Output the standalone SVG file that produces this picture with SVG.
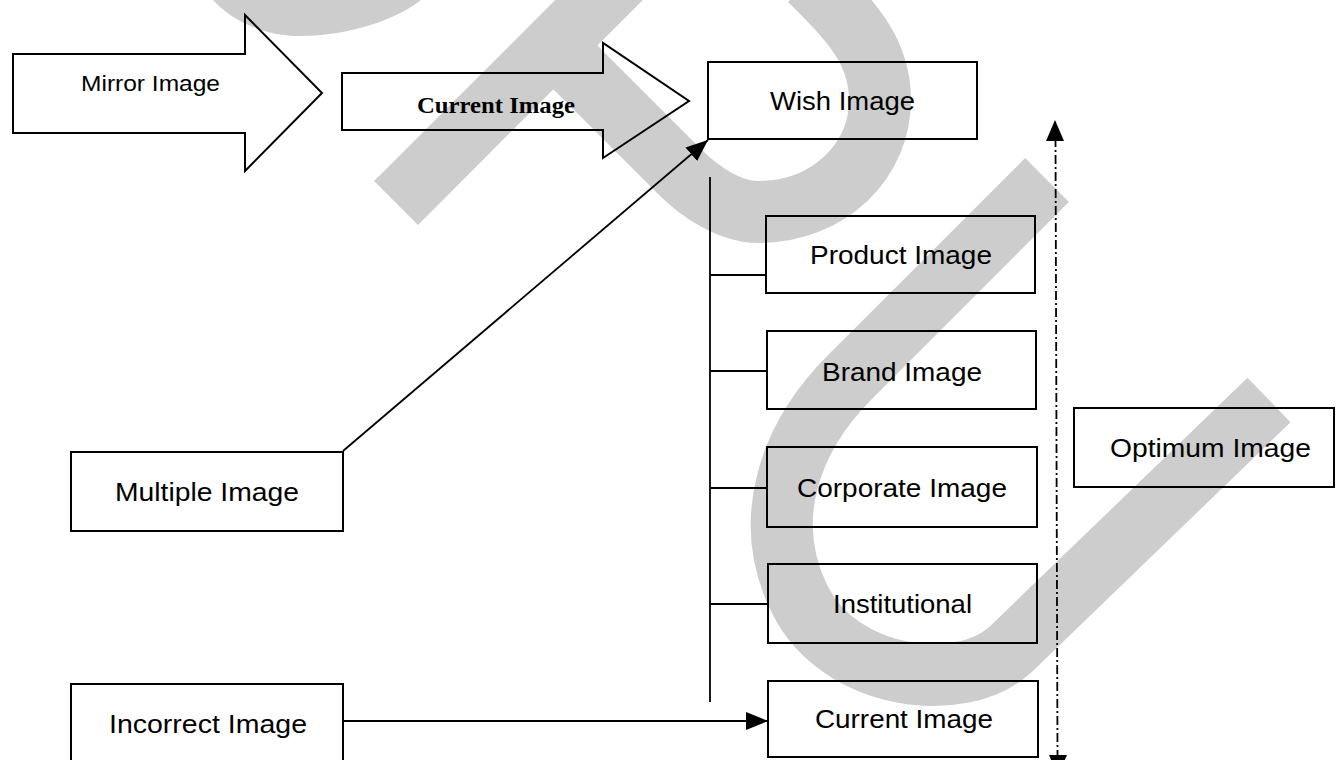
<svg xmlns="http://www.w3.org/2000/svg" width="1336" height="760" viewBox="0 0 1336 760">
  <style>
    .wm { fill: none; stroke: #cdcdcd; stroke-width: 62; stroke-linecap: butt; stroke-linejoin: round; }
    .box { fill: none; stroke: #000; stroke-width: 2; }
    .link { fill: none; stroke: #000; stroke-width: 1.8; }
    .lbl { font-family: "Liberation Sans", Arial, sans-serif; font-size: 25px; fill: #000; }
    .lbl-small { font-family: "Liberation Sans", Arial, sans-serif; font-size: 22px; fill: #000; }
    .lbl-serif { font-family: "Liberation Serif", "Times New Roman", serif; font-size: 24px; font-weight: bold; fill: #000; }
  </style>
  <defs>
    <marker id="head" viewBox="0 0 22 18" refX="22" refY="9" markerWidth="22" markerHeight="18" orient="auto" markerUnits="userSpaceOnUse">
      <path d="M0,0 L22,9 L0,18 Z" fill="#000"/>
    </marker>
  </defs>

  <rect width="1336" height="760" fill="#fff"/>

  <!-- background watermark strokes -->
  <g id="watermark">
    <path d="M213,0 C235,24 268,36 300,36 C340,36 390,24 421,0 Z" fill="#cdcdcd"/>
    <path class="wm" d="M396,203 L625,-26"/>
    <path class="wm" d="M555,47 L680,172 C700,192 730,212 758,212 C830,212 880,160 880,100 C880,50 850,20 810,-20"/>
    <path class="wm" d="M1047,180 L850,377 C790,437 760,520 800,600 C840,680 960,695 1010,650 L1269,400"/>
  </g>

  <!-- block arrows -->
  <g id="mirror-image">
    <polygon class="box" points="13,54 245,54 245,15 322,93 245,171 245,133 13,133"/>
    <text class="lbl-small" x="81" y="91" textLength="139" lengthAdjust="spacingAndGlyphs">Mirror Image</text>
  </g>
  <g id="current-image-arrow">
    <polygon class="box" points="342,73 603,73 603,43 689,101 603,158 603,130 342,130"/>
    <text class="lbl-serif" x="417" y="113" textLength="158" lengthAdjust="spacingAndGlyphs">Current Image</text>
  </g>

  <!-- boxes -->
  <g id="wish-image">
    <rect class="box" x="708" y="62" width="269" height="77"/>
    <text class="lbl" x="770" y="110" textLength="145" lengthAdjust="spacingAndGlyphs">Wish Image</text>
  </g>
  <g id="product-image">
    <rect class="box" x="766" y="216" width="269" height="77"/>
    <text class="lbl" x="810" y="264" textLength="182" lengthAdjust="spacingAndGlyphs">Product Image</text>
  </g>
  <g id="brand-image">
    <rect class="box" x="767" y="331" width="269" height="78"/>
    <text class="lbl" x="822" y="381" textLength="160" lengthAdjust="spacingAndGlyphs">Brand Image</text>
  </g>
  <g id="corporate-image">
    <rect class="box" x="767" y="447" width="270" height="80"/>
    <text class="lbl" x="797" y="497" textLength="210" lengthAdjust="spacingAndGlyphs">Corporate Image</text>
  </g>
  <g id="institutional">
    <rect class="box" x="768" y="564" width="269" height="79"/>
    <text class="lbl" x="833" y="613" textLength="139" lengthAdjust="spacingAndGlyphs">Institutional</text>
  </g>
  <g id="current-image">
    <rect class="box" x="768" y="681" width="270" height="76"/>
    <text class="lbl" x="815" y="728" textLength="178" lengthAdjust="spacingAndGlyphs">Current Image</text>
  </g>
  <g id="optimum-image">
    <rect class="box" x="1074" y="408" width="260" height="79"/>
    <text class="lbl" x="1110" y="457" textLength="201" lengthAdjust="spacingAndGlyphs">Optimum Image</text>
  </g>
  <g id="multiple-image">
    <rect class="box" x="71" y="452" width="272" height="79"/>
    <text class="lbl" x="115" y="501" textLength="184" lengthAdjust="spacingAndGlyphs">Multiple Image</text>
  </g>
  <g id="incorrect-image">
    <rect class="box" x="71" y="684" width="272" height="80"/>
    <text class="lbl" x="109" y="733" textLength="198" lengthAdjust="spacingAndGlyphs">Incorrect Image</text>
  </g>

  <!-- connectors -->
  <g id="connectors">
    <line class="link" x1="343" y1="451" x2="708" y2="140" marker-end="url(#head)"/>
    <line class="link" x1="710" y1="177" x2="710" y2="702"/>
    <line class="link" x1="710" y1="275" x2="766" y2="275"/>
    <line class="link" x1="710" y1="371" x2="767" y2="371"/>
    <line class="link" x1="710" y1="488" x2="767" y2="488"/>
    <line class="link" x1="710" y1="604" x2="768" y2="604"/>
    <line class="link" x1="343" y1="721" x2="768" y2="721" marker-end="url(#head)"/>
    <line class="link" x1="1055.5" y1="138" x2="1057.5" y2="756" stroke-dasharray="9 3 2 3"/>
    <polygon points="1055,120 1046,141 1064,141" fill="#000"/>
    <polygon points="1058,776 1049,755 1067,755" fill="#000"/>
  </g>
</svg>
